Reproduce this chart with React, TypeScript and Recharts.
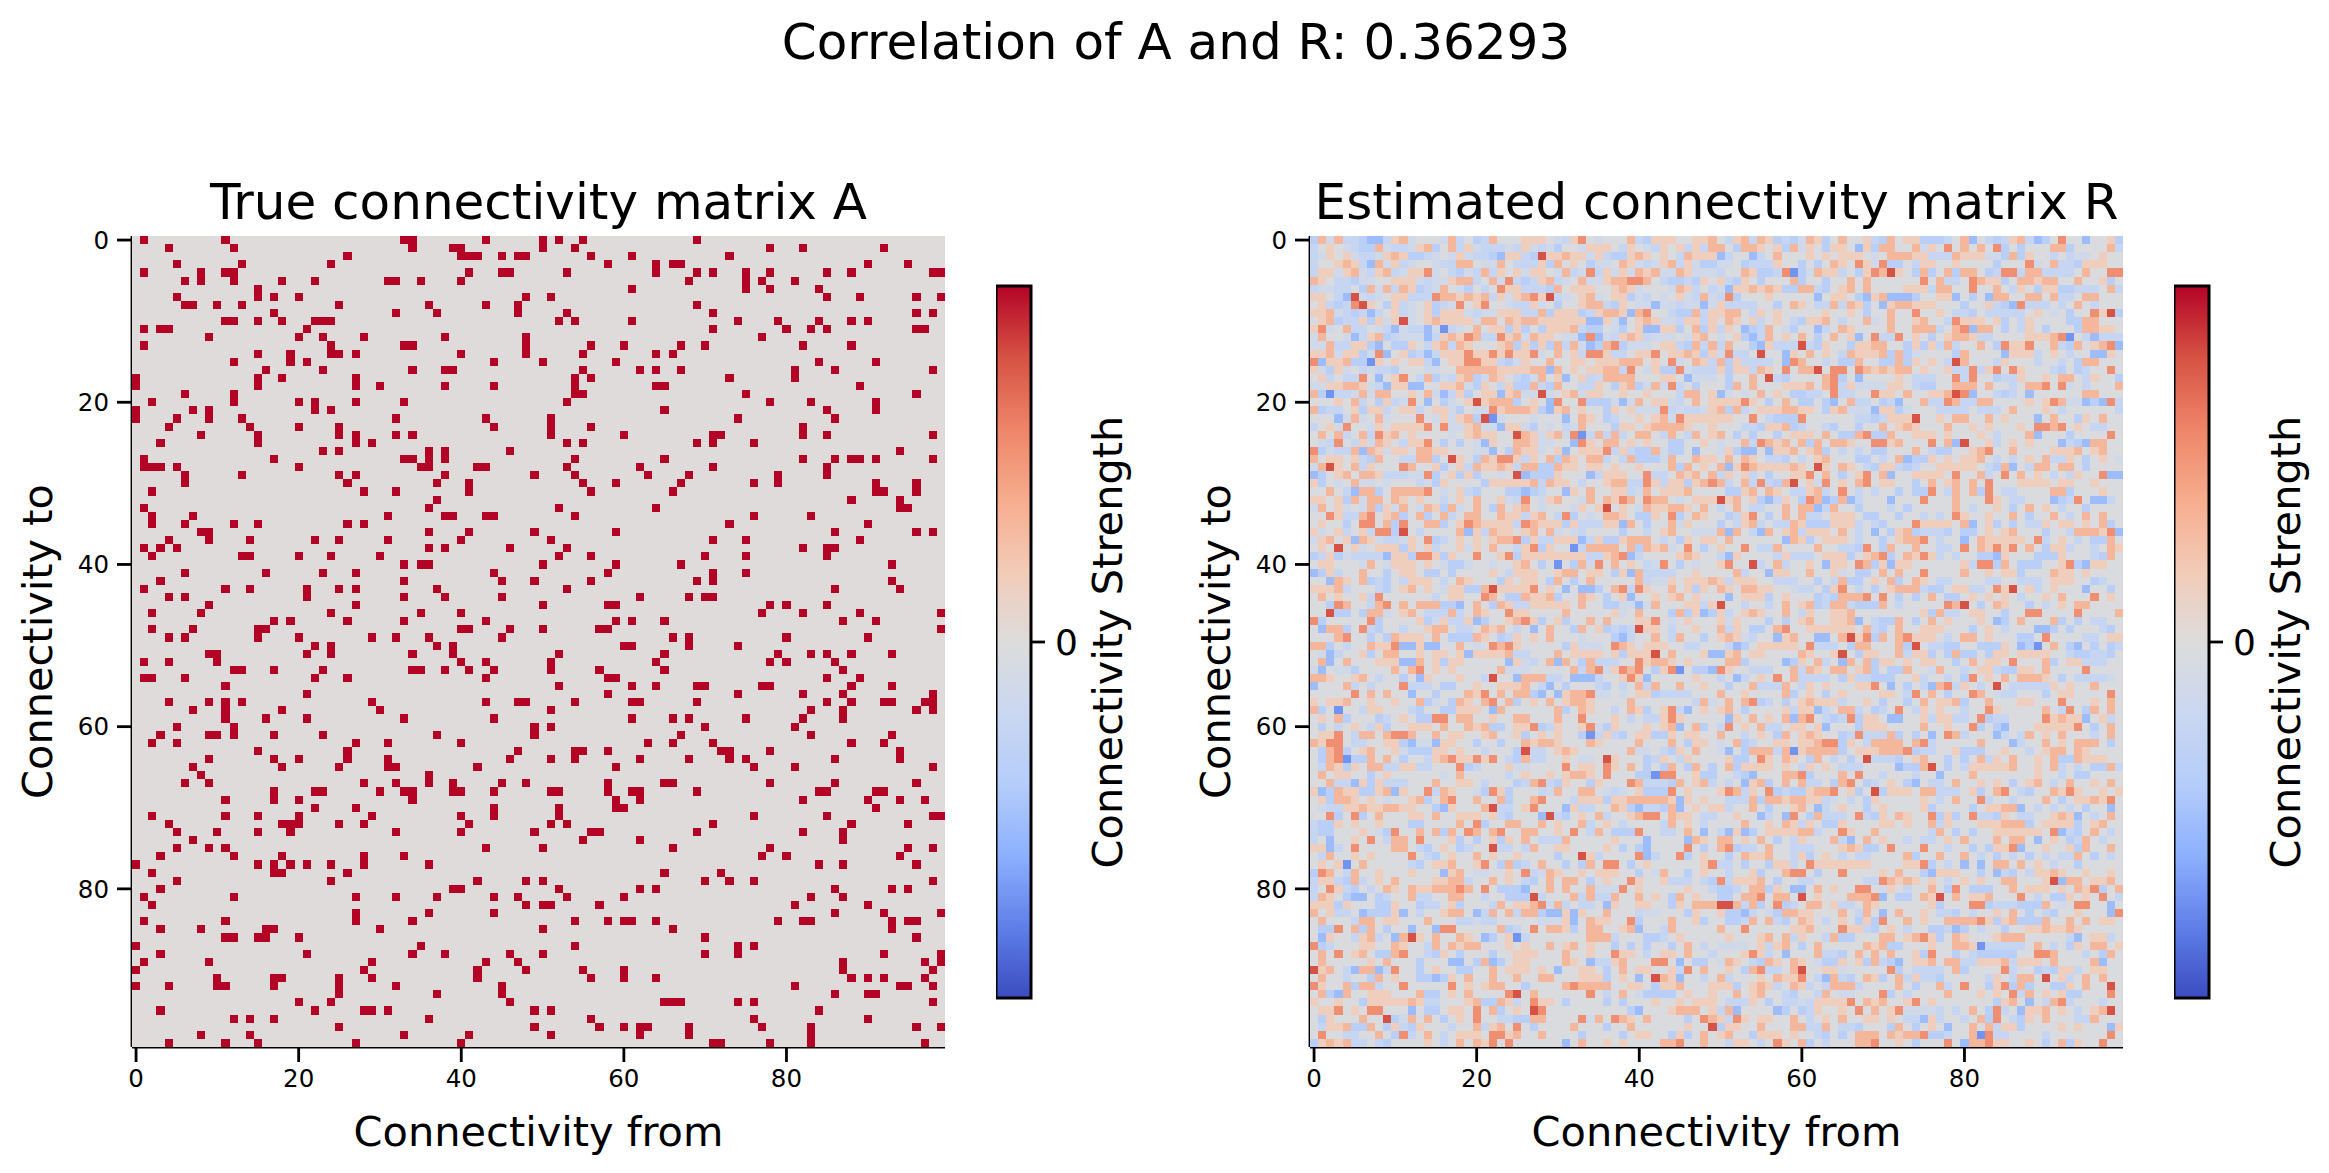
import React from 'react';
import { ScatterChart, Scatter, XAxis, YAxis, BarChart, Bar } from 'recharts';

const FONT = '"DejaVu Sans", sans-serif';
const rowsA: number[][] = [
[1,11,33,34,43,50,52,55,69],[4,12,34,39,40,50,54,78,82,92],[26,40,41,42,45,47,48,56,61,73],[5,13,24,58,64,66,67,90,95],[1,8,11,12,41,45,46,53,64,69,71,75,78,85,88,98,99],
[6,8,12,18,22,31,32,35,40,68,75,77,81],[15,61,75,78,84],[5,15,17,20,48,51,85,89,96,99],[6,7,10,13,25,36,43,47,69],[17,32,37,47,53,71,96,98],
[11,12,15,18,22,23,24,52,54,61,74,79,84,88,90],[1,3,4,21,71,80,83,85,96,97],[9,20,23,28,38,48,77],[1,24,33,34,48,56,60,67,70,82,88],[15,19,24,25,27,40,48,55,64,66],
[12,19,21,44,50,59,84,91],[16,23,34,38,39,55,62,64,67,81,86,98],[0,15,18,27,54,56,73,81],[0,15,27,30,38,44,54,64,65,89],[6,12,54,55,75,96],
[2,12,20,22,27,33,53,78,83,91],[0,7,9,22,24,65,85,91],[0,5,9,13,32,43,51,74,86],[4,14,20,25,44,51,56,82],[8,15,25,27,32,34,51,60,71,72,82,85,98],
[3,15,27,29,53,55,69,71,76],[23,25,36,38,46,94],[1,17,33,34,36,38,54,65,82,86,88,89,91,98],[1,2,3,5,20,35,36,42,43,53,62,71,85],[6,13,25,27,38,49,54,63,68,79,85],
[6,26,37,41,55,59,67,76,79,91,96],[2,28,32,41,56,66,91,92,96],[37,88,94],[1,36,52,64,94,95],[2,7,31,38,39,43,44,54,76,83],
[2,6,12,15,26,28,73,90],[8,9,36,41,49,59,86,96,98],[4,9,14,22,25,31,40,51,71,75,89],[1,3,5,36,38,46,53,82,85,86],[2,13,14,20,24,30,52,56,70,75,85],
[33,35,36,50,59,67,93],[6,16,23,27,44,58,71,75],[3,33,45,49,56,69,71,93],[1,11,14,21,25,27,37,53,86,94],[4,6,21,33,38,45,62,68,70,71],
[9,27,50,58,59,78,80,85],[2,8,24,35,40,77,82,89,99],[17,19,26,33,43,59,61,65,87,91],[2,7,15,16,40,41,46,50,57,58,99],[4,6,15,20,29,32,36,45,66,68,80,90],
[22,24,37,39,60,61,68,74],[9,10,21,24,34,39,52,65,79,83,85,88,93],[1,4,10,40,43,51,64,78,80,86],[12,13,17,23,34,35,38,41,44,51,57,65,87],[1,2,6,22,26,43,58,59,85,89],
[11,52,61,64,69,70,77,78,88,93],[21,58,74,82,87,98],[4,9,11,13,29,43,47,48,54,61,62,69,85,88,92,93,97,98],[7,11,18,30,51,83,87,96,98],[11,16,21,33,44,61,66,68,75,82,87],
[5,12,49,51,70,81],[3,9,10,12,17,23,37,49,67,83,93],[2,5,27,31,40,63,66,71,88,92],[15,26,47,54,55,58,72,73,78,94],[9,17,20,26,31,46,51,54,62,68,73,75,86,94],
[7,18,25,31,32,42,59,76,81,98],[8,36],[6,9,28,32,36,39,45,48,58,65,66,78,86,96],[17,22,23,30,33,34,39,40,44,51,52,58,61,62,69,84,85,91,92],[11,17,20,34,59,62,82,90,94,97],
[22,27,44,52,59,60,91],[2,11,15,20,29,40,44,52,76,85,98,99],[4,18,19,20,25,28,41,51,53,71,88,95],[5,10,15,19,32,40,49,56,57,69,82,87],[7,55,62,87],
[5,9,11,43,50,66,78,95,98],[3,12,18,28,33,77,80,94],[0,15,17,19,21,24,28,36,84,87,96],[2,17,18,26,65,72],[5,24,42,48,50,70,73,76,98],
[3,39,40,52,62,64,86,93,95],[1,12,27,32,37,44,47,53,60,83,87],[2,48,50,51,57,81,90],[27,36,44,86,92,99],[1,11,27,34,54,58,60,61,64,79,82,83,93,95,96],
[3,8,16,17,30,50,66,93],[11,12,15,16,20,70,96],[0,35,54,74,76],[3,21,34,38,46,50,70,74,92,99],[1,9,29,43,47,87,97,99],
[0,28,42,48,55,60,87,98],[10,17,18,25,29,42,56,60,64,88,90,92,97],[0,4,10,11,17,25,32,45,81,94,95,98],[25,37,45,86,90,91],[20,24,46,65,66,67,74,76,98],
[3,22,28,29,31,49,51,84],[12,14,17,36,56,76,90],[25,49,57,60,62,63,68,77,83,96,99],[8,14,33,41,51,62,68,83],[4,11,15,27,40,71,72,78,83,97],
];
// Estimated matrix R: one colour level (0 deep blue .. 9 deep red) per cell, read by eye; columns 0-49
const rowsRLeft: string[] = [
'2747332113 6745554735 2375556665 4368545557 3266655667','3565432274 3346725736 4333436434 2554666536 5436563637','3465643346 7622345464 3321663296 6766463226 7656537666','3556763174 6345543377 5447533362 7565244576 4346736422','3664674367 3466845324 3736564665 4734836464 7674476444',
'7653324455 6664344677 3574832367 3457446778 8753223265','3443352747 3762347542 5358663332 7566655676 4555476353','6653194345 6633387767 6736467869 3456745662 4354564374','5632389652 6345623485 6855433645 2556773265 4414434414','6674323135 6345626664 3446663372 6662367761 7855322736',
'5672336264 6945676666 4775767766 6666116415 6764436636','6845733543 1433140345 7566262526 6673225425 6116625726','4755413672 3444136768 7338674766 5441814367 6344454675','4473366215 2265367376 5556726262 7374127824 4456632737','6674662481 5623136668 6686866845 7563886335 6685667626',
'8166722065 6566315668 8663246557 5566566677 7565845763','6426453433 2555445577 7776666771 7565667738 5462284333','5635338515 6853724367 2476532475 6156347777 5556651444','4466776431 6611556674 2653622732 7553365267 2474835255','7203347477 5565741362 5661674494 5674665565 5655537756',
'5556573526 3485152456 9677725651 8558222414 7566435756','7233562663 5663566425 4486777621 6756552656 4448343346','5551474574 5558546467 2904555455 5157652355 6567486666','3564855465 6666858446 7441664254 5347555266 5677776556','5757357386 7565555456 7665597646 7480373735 7753753756',
'5438536476 5366852525 4165577644 5518657756 5655225565','8243371764 6657766555 4415276645 6156668363 2274225155','7566563275 5337725965 2768863657 2765773537 2224755766','4796573655 5875562563 7667637722 7665665655 6555727565','1256757763 3344825626 2554591222 6555136665 5833576757',
'6254574454 5553426555 5266666737 6653556773 3863662678','5575317725 7777854563 2555221235 5165755663 4756667555','6656274775 7656553565 7556438546 7554757687 5877545666','4756454726 4754762745 7527567545 5546569565 4766776575','5586337856 7257257357 7557663675 3825457765 2265825765',
'5655258857 2855772568 7666638766 6263336617 5255746555','6456356388 2953555571 6376656757 4543555525 5356755444','4675617643 3465823565 6567782633 6661362267 7753526566','5659564566 6265635564 6575536826 5503777757 2767458525','2362433331 6628862655 8556826666 6666336781 3555567655',
'5665554754 6665654224 5545567525 0527485756 5348525455','1263557552 5665225255 5565366655 6775665261 7333355655','5517657232 5366653576 5552656652 7525755555 7344656667','6667355532 5675654662 2796666856 5151125783 8655756265','5756556385 5555535665 5875227667 2557652561 5565675655',
'5528755378 5757772215 7527633666 6657552244 1475556636','5592252774 5675333735 7655866555 5755555645 7555272612','8255555825 5556246336 1255678625 6255757555 6685456555','5177258325 5355677533 5767535157 5527562323 9665355655','5557855252 7666575222 7652365657 5554555213 5575375525',
'7725355766 8116115575 4587865555 5264445876 5666553355','5413556257 7556566561 6666733555 7566665626 6695755561','5715755566 6117562665 5555164357 1752733355 8677656555','4154425555 7578565655 5557444555 5573784687 8526805221','7765567535 5251655565 5395517773 3511135568 6155555655',
'1555735355 5833352255 6556667531 5255532535 7375575565','5555585757 5515525557 6857577215 1677844545 6623333555','6566755655 6557245276 5785725657 5677655557 5555555374','7250553665 5532552266 6517555555 7257655357 6256831565','5657255523 5652288577 5565577555 7558555653 5336865555',
'5253565362 5566657557 6722566823 6556842655 5656715725','5668537757 8875575665 5675562565 6552036325 6622656655','7688533556 6214416655 2552557677 6555765555 7555752665','5278256755 6422266565 5355529335 6765555557 4453265755','5278022757 5255367866 8685327335 5654459655 5236536555',
'5376265773 3663355582 3555644555 5856658657 5252752752','5756655256 5555554575 5555356556 5677658555 2208855622','5573316263 3355575566 5355523783 2655265558 7333275673','6127662267 1655837655 4286255534 7557754345 6222856555','5627765654 5567257855 7557255785 5536662667 7777616565',
'5433667667 7665521655 5793356855 5163355762 1332715656','5582582575 5566575566 6563255519 3256573556 7885766533','3226565565 5522555575 8255775575 6557356535 5553756535','3225556542 8557572758 7578557755 6585375222 8553357515','3515565853 7758555625 2562657533 3755555655 5155551765',
'6613585555 7753256523 5593353755 6655556525 2155558525','5375565655 5585325655 7565565555 2559635555 8135582565','5656057555 5532566755 6852723575 5252758852 5655555568','2875375565 5565551675 4455658347 6556566655 2547552565','3663273565 7555566773 5575653257 5775256558 6556333532',
'3586325357 6576677787 5852221557 5755744485 6555556553','3765211523 5573355775 5355222935 5573733755 7565275655','6662655522 6552335625 5537566784 7353351655 6655265777','7563351222 6153556775 1375737721 1616557555 3445552655','5755537756 6555755533 4335555544 4615766558 2555755625',
'5228572752 5515518855 5557235857 7625775567 1553755555','5165536735 1796575576 5125603555 5555777355 5223565555','8235556655 7655375767 7555656557 5675655252 5255257535','5758567522 7855326525 5525566655 5755655866 5356657553','5755555657 5552555115 2712566555 5765133675 5588515225',
'9675317713 8552565522 5575666565 1556652575 6655638575','5755355275 6552212657 5575575577 5556662565 1597615535','8655727735 5855555856 5677552555 5787777556 6526675556','5721755666 5557225657 5555895755 5555853575 4222256556','6556552666 6676335556 7227635866 5255552525 5565565666',
'5668565885 5515225665 8572565985 5555555552 1555677756','5265557559 2475752565 8553322775 5558475876 5755552587','5366722752 6326555355 7367585255 5575552557 5555556559','5855335575 2835753566 6588675575 5552555525 6655262575','2676733532 5555653575 7685855555 5157556565 5557785575',
];
// columns 50-99
const rowsRRight: string[] = [
'5367376232 4762575563 2756622235 7153236731 2585515562','7527765627 4652665162 7755746585 7575825255 5772555573','1355135755 5656566654 5777663337 6664427265 5353445655','4452333655 2525765864 8225366556 5555255584 5733266655','3557622380 2476635268 7965272572 7752388377 3333575588',
'6326525557 2552557575 5555585733 5876625776 7755755625','4166767622 7732567575 5556663775 5855753652 6622333573','3825556555 5515665216 7111255661 5251775577 5733577555','6333355257 6533737625 1677666555 2556321833 3535753555','6775365655 5556556525 5755855653 3253333356 5452558692',
'5765635653 2667535574 5755675538 6665625365 5552277555','3651237542 5513576555 5755777357 8177525365 2555277665','4562137565 7525756158 3385652567 7633555566 6780531333','3755216333 9326552667 7552626373 5575286685 5732756781','4833595516 5756537666 7272455552 7555516663 5653551165',
'7263333518 7553522755 2272656539 7555365553 5535277555','6266376585 7795885876 7677565563 3836858655 5325235585','5255759325 5557825155 5565333558 3855233655 6577536552','5275755566 6757836444 4665322557 7757553577 8584535557','1454575652 2335833558 6657556679 8155323515 5555577555',
'6668652575 2252157335 2315573387 3377555565 6874412183','7273566677 6652674441 6624555333 3533357555 6535555553','6655853222 8555555332 3666955657 7557565551 5755265755','5553326672 3553255255 7567655575 5656555658 8785653355','7525255256 6657522782 2755666565 5565355571 5552555585',
'4557387675 7275776558 8675558571 9556356565 5513217755','4621151667 5672535352 2555753225 5678557555 5666756755','5757653325 3567555225 3571226565 6675353565 7336525654','7168766667 6596576532 6632355666 6653271537 7577525555','3656352556 6857525685 7155666658 5573585756 5353655811',
'7357383279 5648565785 6655257567 5758555666 6566556555','5226757653 3673585353 5525228537 5728533555 5772555655','9675621365 2871271355 5155585557 5558653355 5123851135','3575335575 7713755255 5352555557 5355652575 6535525555','5236852575 7335666522 5525535358 6556557525 5753575755',
'2536735337 6222666353 2555866665 7156252533 6566565725','7175317567 3666575351 5267233325 2256567555 2553777681','5755555517 6256665355 2567785355 1576666658 3565352275','6558533755 5575533285 2755755335 8576868575 2663553576','3165555363 3356662567 8257686353 5522165552 2265553275',
'6855935735 5651665872 6166555555 6388275222 5568216655','5573551665 5755645225 7575585555 7556566255 5766565555','6366655333 5525372256 5725765335 5553355333 5666552355','7657766554 3352685352 5677732256 6335869563 5655515525','5156662565 5523277785 8525257522 5656565355 6575558565',
'9553553575 6723773222 7535555587 9525765525 3565775555','6356765575 3655667555 5555562733 5665525588 5555855557','6465552525 6755667153 2275257565 5565125755 5725253355','7365225785 5666666573 2575566655 5256535551 1252555325','6764355167 5511579682 7578666535 7756555225 8555533566',
'5312566666 5833352775 5572953322 5522265120 5752152523','1675665555 7655695266 5573662527 2252665666 6553223325','5772555512 6573517572 6656566552 5756658555 7256633355','8655333557 3765775672 5227554755 3566322665 7555585555','3513565857 3333526332 2255635535 2856575777 6525333345',
'5255733375 3656555668 5152531783 6535953333 3656557555','7556555572 5652565555 6653857525 5875433555 2566555585','5757823525 6766635565 2552575667 2557555665 5585556575','6752555563 6613577352 3585365655 3558655555 7538527575','5165756571 7853238266 5115563663 3582335555 8676615635',
'3856573356 6561555266 6555575565 5825215556 6666852575','7553565275 6765523833 3725251587 3555135375 6575553575','4572355665 6678826537 7775783555 5575551355 7565777525','4152777370 6777725666 7778233556 2225565535 6775765555','5622586576 5275352593 3325675525 2573657556 5722766655',
'5726666565 3656533355 5512279525 3666667556 5735352273','5532155577 8255575855 3555355155 5755555556 5535225555','5351672575 7335278523 5652153357 5565652567 5357556575','6873658232 2677856259 2666577333 5625785325 5768655656','5333727767 7663453526 5555565357 5583553555 7525667685',
'6355752556 7513565525 6555562555 5256677153 5353525515','5565513518 5273335832 6576558262 5833265335 5676153575','5557556576 3652265555 6656557365 5566677725 6666256755','3161256666 7735586557 5555553752 5255666666 5813257535','7756575253 6555731575 6553533565 7555757751 5652375355',
'7823357553 3355567622 5855585535 5252668155 6556275575','5257667553 6256535335 5557255755 7535253525 3533752535','3352552663 5866666665 5556682535 1515775756 5355255555','5355625578 8525585555 6575521666 5525132536 6765565565','8366675255 3355555533 8767656535 6565577555 6917756675',
'2235772651 1575655885 4653557528 5222557566 6565768257','2257785775 9565557778 1522576957 5667555853 5226565853','9973725823 5775633576 5555556255 5882333222 7545885515','6221354277 6655575375 1575565332 5355657525 3255655518','5223757325 7653565262 8557565577 7786267222 7557575665',
'7558555556 6755586632 5653552231 2535525566 7667655555','5655567573 6553722555 7756786257 6555677755 5553156635','4444563675 2575555576 7225556557 7603333357 5352657756','5556863515 5573325757 5755628552 5322222558 8755535275','4765327657 6542265627 3215667577 3366673666 5755557155',
'5652783357 9556645555 5825333357 2555583552 3266356655','7355565766 8531732576 2573633255 5553653775 9563575755','6625676357 6353777355 5575255735 8552682725 5226575595','5575675532 5537544555 8253555575 5565658375 6562255585','5333652533 4366668576 7556856555 5555267515 3783555355',
'3715555125 2365565857 5684444353 5752835166 7565356795','6386566557 5356575566 5653316355 3572853265 7555337555','2665575557 7337533255 5275256515 5757366255 5565655516','6755266656 5532525777 5767782235 5708335555 3555555585','5366535865 7253555778 5565255585 1778665565 2572655855',
];
const levelValues = [-0.72,-0.52,-0.36,-0.24,-0.14,-0.03,0.17,0.33,0.55,0.8];
const zeroA = 0.01;
const tickValues = [0,20,40,60,80];
const coolwarm = ['#3b4cc0','#5f7fe8','#8db0fe','#b5cdfa','#c9d7f0','#dddcdc','#f2cbb7','#f7ac8e','#ee8468','#d65244','#b40426'];
const hex = (s: string) => [1,3,5].map(i => parseInt(s.slice(i,i+2),16));
function colorOf(v: number) {
  const t = Math.max(0, Math.min(0.99999, (v+1)/2)) * 10;
  const i = Math.floor(t), f = t-i;
  const a = hex(coolwarm[i]), b = hex(coolwarm[i+1]);
  return `rgb(${a.map((c,k)=>Math.round(c+(b[k]-c)*f)).join(',')})`;
}
const clean = (s: string) => s.replace(/ /g,'');
const cellsA: any[] = [], cellsR: any[] = [];
for (let r=0;r<100;r++) {
  const row = clean(rowsRLeft[r]||'').padEnd(50,'5') + clean(rowsRRight[r]||'').padEnd(50,'5');
  for (let c=0;c<100;c++) {
    cellsA.push({x:c,y:r,v:rowsA[r].includes(c)?1:zeroA});
    cellsR.push({x:c,y:r,v:levelValues[+row[c]]});
  }
}
const PW=813, PH=811, L=132, T=236, CW=PW/100, CH=PH/100;
const CellShape = (p:any) => <rect x={p.cx-CW/2} y={p.cy-CH/2} width={CW} height={CH} fill={colorOf(p.payload.v)} shapeRendering="crispEdges" />;
const axisLine = {stroke:'#000',strokeWidth:2.8};
const tick = {fontSize:24.5,fontFamily:FONT,fill:'#000'};
const label = (value:string,extra:any) => ({value,style:{fontSize:41.5,fontFamily:FONT,fill:'#000',textAnchor:'middle'},...extra});
function Heat({data,left,title}:{data:any[],left:number,title:string}) {
  return <div style={{position:'absolute',left,top:0}}>
    <ScatterChart width={1000} height={1173} margin={{left:0,top:T,right:1000-L-PW,bottom:0}}>
      <XAxis type="number" dataKey="x" domain={[-0.5,99.5]} ticks={tickValues} interval={0} height={1173-T-PH} tick={tick} tickSize={15} tickMargin={8} axisLine={axisLine} tickLine={axisLine}
        label={label('Connectivity from',{position:'insideTop',offset:70})} />
      <YAxis type="number" dataKey="y" reversed domain={[-0.5,99.5]} ticks={tickValues} interval={0} width={L} tick={tick} tickSize={15} tickMargin={8} axisLine={axisLine} tickLine={axisLine}
        label={label('Connectivity to',{angle:-90,position:'insideLeft',offset:37,dy:0})} />
      <Scatter data={data} shape={CellShape} isAnimationActive={false} />
    </ScatterChart>
    <div style={{position:'absolute',left:L+PW/2,top:202,transform:'translate(-50%,-50%)',font:`50px ${FONT}`,whiteSpace:'nowrap'}}>{title}</div>
  </div>;
}
const barData = [{name:'c',range:[-1,1]}];
function ColorBar({left,id}:{left:number,id:string}) {
  return <div style={{position:'absolute',left,top:0}}>
    <BarChart width={200} height={1173} data={barData} margin={{left:0,top:286,right:0,bottom:175}} barCategoryGap={0}>
      <defs><linearGradient id={id} x1="0" y1="1" x2="0" y2="0">{coolwarm.map((c,i)=><stop key={i} offset={i/10} stopColor={c}/>)}</linearGradient></defs>
      <XAxis dataKey="name" hide />
      <YAxis type="number" orientation="right" domain={[-1,1]} ticks={[0]} width={165} tick={{...tick,fontSize:36}} tickSize={14} tickMargin={10} axisLine={false} tickLine={axisLine}
        label={label('Connectivity Strength',{angle:-90,position:'insideLeft',offset:76})} />
      <Bar dataKey="range" fill={`url(#${id})`} stroke="#000" strokeWidth={3} isAnimationActive={false} />
    </BarChart>
  </div>;
}
export default function App() {
  return <div style={{position:'absolute',left:0,top:0,width:2329,height:1173,background:'#fff',overflow:'hidden'}}>
    <div style={{position:'absolute',left:1176,top:42,transform:'translate(-50%,-50%)',font:`50px ${FONT}`,whiteSpace:'nowrap'}}>Correlation of A and R: 0.36293</div>
    <Heat data={cellsA} left={0} title="True connectivity matrix A" />
    <Heat data={cellsR} left={1178} title="Estimated connectivity matrix R" />
    <ColorBar left={996} id="cbA" />
    <ColorBar left={2174} id="cbR" />
  </div>;
}
